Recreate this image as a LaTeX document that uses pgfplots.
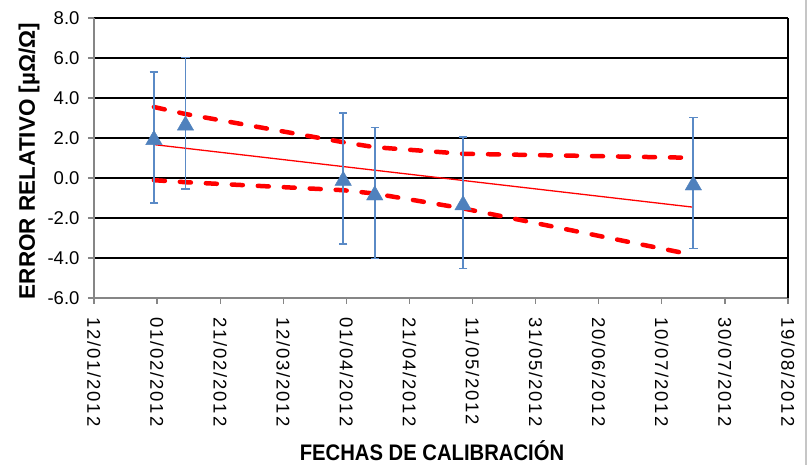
\documentclass[border=0pt]{standalone}
\usepackage{pgfplots}
\pgfplotsset{compat=1.18}
\usepackage{pgfplotstable}
\usepackage{fontspec}
\setmainfont{Liberation Sans}
\newfontfamily\xtickfont[LetterSpace=10]{Liberation Sans}
\newfontfamily\narrowfont[FakeStretch=0.9]{Liberation Sans}
\definecolor{xlblue}{HTML}{4F81BD}
\definecolor{barblue}{HTML}{5A8AC6}
\definecolor{axgray}{HTML}{868686}

\pgfplotstableread{
x y e
19 2.02 3.28
29 2.74 3.28
79 -0.02 3.28
89 -0.75 3.28
117 -1.24 3.28
190 -0.25 3.28
}\datatab

\pgfplotstableread{
x up lo
19 3.55 -0.11
29 3.20 -0.21
79 1.79 -0.61
89 1.54 -0.78
117 1.21 -1.52
190 1.01 -3.85
}\bandtab

\begin{document}
\begin{tikzpicture}
\begin{axis}[
  width=694pt, height=280pt, scale only axis,
  xmin=0, xmax=220, ymin=-6, ymax=8,
  axis x line=bottom, axis y line=left,
  axis line style={-, axgray, line width=1.5pt},
  xtick={0,20,...,220},
  xticklabels={12/01/2012,01/02/2012,21/02/2012,12/03/2012,01/04/2012,21/04/2012,11/05/2012,31/05/2012,20/06/2012,10/07/2012,30/07/2012,19/08/2012},
  ytick={-6,-4,...,8},
  ymajorgrids, major grid style={black, line width=1.1pt},
  tick align=outside, major tick length=6pt,
  tick style={axgray, line width=1.2pt},
  extra x ticks={220}, extra x tick labels={},
  extra x tick style={grid=major, major grid style={black, line width=1.1pt}, major tick length=0pt},
  yticklabel style={/pgf/number format/.cd, fixed, fixed zerofill, precision=1, assume math mode=true, /tikz/.cd, font=\fontsize{18.5}{20}\selectfont, xshift=-5pt},
  xticklabel style={font=\xtickfont\fontsize{18.5}{20}\selectfont, rotate=-90, anchor=west, inner xsep=13pt},
  xlabel={FECHAS DE CALIBRACIÓN},
  xlabel style={at={([xshift=-9pt,yshift=-162pt]rel axis cs:0.5,0)}, anchor=base, inner sep=0pt, font=\narrowfont\fontsize{22.5}{24}\bfseries\selectfont},
  ylabel={ERROR RELATIVO [µΩ/Ω]},
  ylabel style={at={([xshift=-59pt,yshift=-3pt]rel axis cs:0,0.5)}, rotate=0, anchor=base, inner sep=0pt, font=\fontsize{22.5}{24}\bfseries\selectfont},
]
\addplot[red, line width=4.5pt, line cap=round, dash pattern=on 11pt off 15pt] table[x=x, y=up]{\bandtab};
\addplot[red, line width=4.5pt, line cap=round, dash pattern=on 11pt off 15pt] table[x=x, y=lo]{\bandtab};
\addplot[red, line width=1.3pt] coordinates {(19,1.67) (190,-1.46)};
\addplot[only marks, mark=triangle*, mark size=9.5pt, mark options={fill=xlblue, draw=xlblue, yshift=-2.3pt},
  error bars/.cd, y dir=both, y explicit,
  error bar style={barblue, line width=1.8pt},
  error mark options={rotate=90, barblue, line width=1.5pt, mark size=4.2pt}]
  table[x=x, y=y, y error=e]{\datatab};
\coordinate (O) at (rel axis cs:0,0);
\coordinate (T) at (rel axis cs:1,1);
\end{axis}
\pgfresetboundingbox
\path[use as bounding box] ([shift={(-94pt,-167pt)}]O) rectangle ([shift={(21pt,18pt)}]T);
\draw[gray!45, line width=1.5pt] ([shift={(18pt,18pt)}]T) -- ([shift={(18pt,-167pt)}]T |- O);
\end{tikzpicture}
\end{document}
